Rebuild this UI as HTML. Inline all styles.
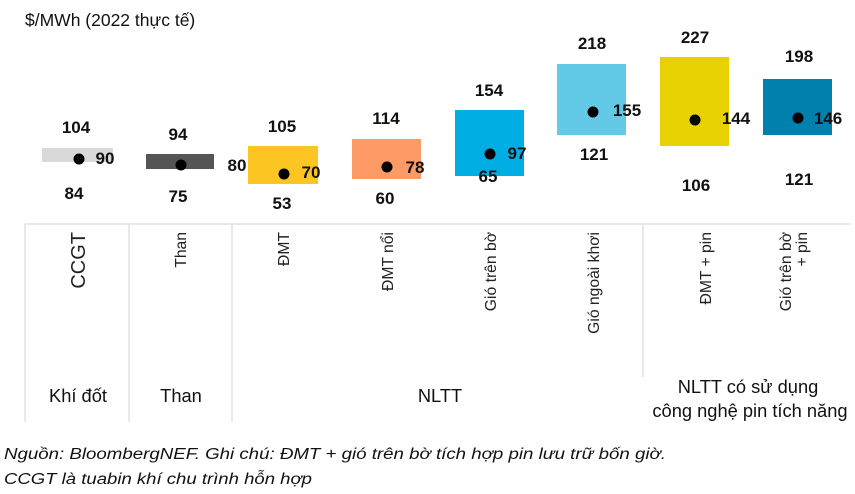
<!DOCTYPE html>
<html><head><meta charset="utf-8"><style>
body{margin:0;background:#fff;}
svg{display:block;font-family:"Liberation Sans",sans-serif;}
.v{font-weight:bold;font-size:17px;fill:#111;text-anchor:middle;}
.c{font-size:15.7px;fill:#222;text-anchor:end;}
.g{font-size:18.3px;fill:#111;text-anchor:middle;}
</style></head><body>
<svg width="855" height="494" viewBox="0 0 855 494">
<text x="25" y="26" font-size="17.5" fill="#111">$/MWh (2022 thực tế)</text>
<g stroke="#e2e2e2" stroke-width="1.5">
<line x1="25" y1="224" x2="850" y2="224"/>
<line x1="25" y1="224" x2="25" y2="422"/>
<line x1="129" y1="224" x2="129" y2="422"/>
<line x1="232" y1="224" x2="232" y2="422"/>
<line x1="643" y1="224" x2="643" y2="377"/>
</g>
<rect x="42" y="148" width="71" height="14" fill="#d9d9d9"/>
<rect x="146" y="154" width="68" height="15" fill="#555"/>
<rect x="248" y="146" width="70" height="38" fill="#fdc521"/>
<rect x="352" y="139" width="69" height="40" fill="#fe9a66"/>
<rect x="455" y="110" width="69" height="66" fill="#00aee3"/>
<rect x="557" y="64" width="69" height="71" fill="#62c9e7"/>
<rect x="660" y="57" width="69" height="89" fill="#e8d100"/>
<rect x="763" y="79" width="69" height="56" fill="#0080ac"/>
<g fill="#000">
<circle cx="79" cy="159" r="5.5"/><circle cx="181" cy="165" r="5.5"/>
<circle cx="284" cy="174" r="5.5"/><circle cx="387" cy="167" r="5.5"/>
<circle cx="490" cy="154" r="5.5"/><circle cx="593" cy="112" r="5.5"/>
<circle cx="695" cy="120" r="5.5"/><circle cx="798" cy="118" r="5.5"/>
</g>
<g class="v">
<text x="76" y="133">104</text><text x="105" y="164">90</text><text x="74" y="199">84</text>
<text x="178" y="140">94</text><text x="178" y="202">75</text><text x="237" y="171">80</text>
<text x="282" y="132">105</text><text x="311" y="178">70</text><text x="282" y="209">53</text>
<text x="386" y="124">114</text><text x="415" y="173">78</text><text x="385" y="204">60</text>
<text x="489" y="96">154</text><text x="517" y="159">97</text><text x="488" y="182">65</text>
<text x="592" y="49">218</text><text x="627" y="116">155</text><text x="594" y="160">121</text>
<text x="695" y="43">227</text><text x="736" y="124">144</text><text x="696" y="191">106</text>
<text x="799" y="62">198</text><text x="828" y="124">146</text><text x="799" y="185">121</text>
</g>
<g class="c">
<text transform="translate(85,232) rotate(-90)" font-size="20">CCGT</text>
<text transform="translate(186,232) rotate(-90)">Than</text>
<text transform="translate(289,232) rotate(-90)">ĐMT</text>
<text transform="translate(393,232) rotate(-90)">ĐMT nổi</text>
<text transform="translate(496,232) rotate(-90)">Gió trên bờ</text>
<text transform="translate(599,232) rotate(-90)">Gió ngoài khơi</text>
<text transform="translate(711,232) rotate(-90)">ĐMT + pin</text>
<text transform="translate(791,232) rotate(-90)">Gió trên bờ</text>
<text transform="translate(807,232) rotate(-90)">+ pin</text>
</g>
<g class="g">
<text x="78" y="402">Khí đốt</text>
<text x="181" y="402">Than</text>
<text x="440" y="402">NLTT</text>
<text x="748" y="393">NLTT có sử dụng</text>
<text x="750" y="417">công nghệ pin tích năng</text>
</g>
<text x="4" y="459" font-size="15.5" font-style="italic" fill="#111" textLength="662" lengthAdjust="spacingAndGlyphs">Nguồn: BloombergNEF. Ghi chú: ĐMT + gió trên bờ tích hợp pin lưu trữ bốn giờ.</text>
<text x="4" y="484" font-size="15.5" font-style="italic" fill="#111" textLength="308" lengthAdjust="spacingAndGlyphs">CCGT là tuabin khí chu trình hỗn hợp</text>
</svg>
</body></html>
